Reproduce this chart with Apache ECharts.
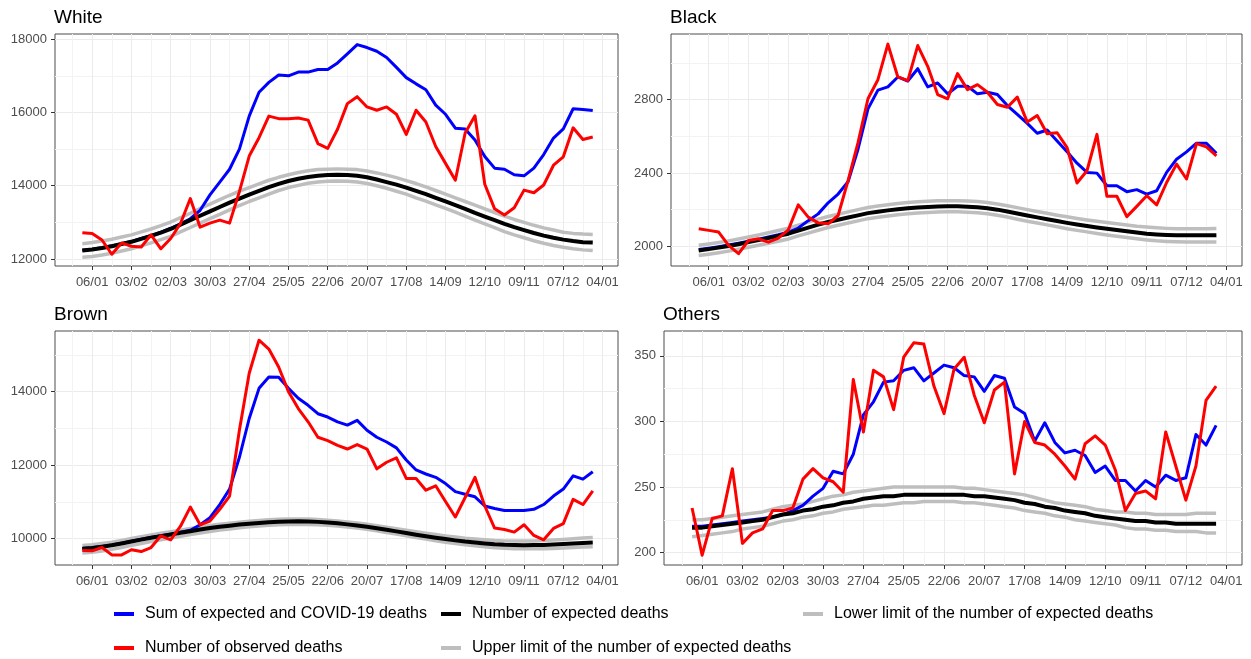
<!DOCTYPE html>
<html>
<head>
<meta charset="utf-8">
<script src="https://cdn.jsdelivr.net/npm/echarts@6/dist/echarts.min.js"></script>
<style>
  html, body { margin: 0; padding: 0; background: #fff; }
  #chart { width: 1251px; height: 659px; }
</style>
</head>
<body>
<div id="chart"></div>
<script>
// weekly points (week start), 30/12/2019 .. 28/12/2020
const weeks = ['2019-12-30', '2020-01-06', '2020-01-13', '2020-01-20', '2020-01-27', '2020-02-03', '2020-02-10',
  '2020-02-17', '2020-02-24', '2020-03-02', '2020-03-09', '2020-03-16', '2020-03-23', '2020-03-30', '2020-04-06',
  '2020-04-13', '2020-04-20', '2020-04-27', '2020-05-04', '2020-05-11', '2020-05-18', '2020-05-25', '2020-06-01',
  '2020-06-08', '2020-06-15', '2020-06-22', '2020-06-29', '2020-07-06', '2020-07-13', '2020-07-20', '2020-07-27',
  '2020-08-03', '2020-08-10', '2020-08-17', '2020-08-24', '2020-08-31', '2020-09-07', '2020-09-14', '2020-09-21',
  '2020-09-28', '2020-10-05', '2020-10-12', '2020-10-19', '2020-10-26', '2020-11-02', '2020-11-09', '2020-11-16',
  '2020-11-23', '2020-11-30', '2020-12-07', '2020-12-14', '2020-12-21', '2020-12-28'];
const tickLabels = ['06/01', '03/02', '02/03', '30/03', '27/04', '25/05', '22/06', '20/07', '17/08', '14/09', '12/10', '09/11', '07/12', '04/01'];

// White
const whiteSum = [12240, 12270, 12310, 12360, 12420, 12480, 12560, 12640, 12730, 12840, 12960, 13100, 13330, 13750, 14100, 14450, 15000, 15900, 16550, 16820, 17020, 17000, 17100, 17100, 17170, 17170, 17350, 17600, 17850, 17770, 17670, 17500, 17230, 16950, 16780, 16620, 16200, 15950, 15570, 15550, 15250, 14800, 14480, 14450, 14300, 14270, 14480, 14850, 15300, 15550, 16100, 16080, 16050];
const whiteObserved = [12720, 12700, 12520, 12130, 12440, 12350, 12330, 12660, 12280, 12560, 12970, 13650, 12870, 12980, 13060, 12980, 13840, 14810, 15310, 15900, 15830, 15830, 15850, 15790, 15150, 15020, 15540, 16240, 16430, 16150, 16060, 16150, 15950, 15400, 16060, 15740, 15070, 14610, 14150, 15440, 15910, 14040, 13370, 13200, 13400, 13880, 13810, 14020, 14560, 14790, 15580, 15260, 15330];
const whiteExpected = [12230, 12260, 12300, 12350, 12410, 12470, 12550, 12630, 12720, 12820, 12940, 13060, 13180, 13300, 13420, 13540, 13650, 13760, 13860, 13960, 14050, 14130, 14190, 14240, 14270, 14290, 14300, 14290, 14270, 14230, 14170, 14100, 14030, 13950, 13860, 13770, 13670, 13570, 13470, 13370, 13260, 13160, 13060, 12960, 12870, 12790, 12710, 12640, 12580, 12530, 12490, 12460, 12450];
const whiteUpper = [12420, 12450, 12490, 12540, 12600, 12660, 12740, 12820, 12910, 13010, 13130, 13250, 13380, 13500, 13620, 13740, 13850, 13950, 14050, 14150, 14230, 14300, 14360, 14410, 14440, 14450, 14460, 14450, 14440, 14400, 14350, 14290, 14220, 14140, 14060, 13970, 13870, 13770, 13670, 13570, 13470, 13370, 13270, 13170, 13080, 13000, 12920, 12850, 12790, 12730, 12700, 12680, 12670];
const whiteLower = [12050, 12070, 12110, 12160, 12220, 12280, 12360, 12440, 12530, 12620, 12740, 12860, 12980, 13100, 13220, 13340, 13460, 13570, 13670, 13770, 13870, 13950, 14010, 14070, 14100, 14120, 14130, 14120, 14100, 14060, 14000, 13930, 13850, 13770, 13670, 13580, 13480, 13380, 13280, 13170, 13060, 12960, 12860, 12750, 12660, 12580, 12500, 12430, 12370, 12320, 12280, 12250, 12230];

// Black
const blackSum = [1983, 1990, 1998, 2007, 2017, 2028, 2039, 2051, 2063, 2077, 2100, 2140, 2177, 2237, 2285, 2352, 2529, 2749, 2851, 2869, 2923, 2901, 2968, 2869, 2890, 2831, 2872, 2872, 2831, 2840, 2827, 2767, 2719, 2670, 2616, 2634, 2574, 2515, 2453, 2403, 2399, 2330, 2330, 2298, 2309, 2285, 2303, 2403, 2475, 2515, 2562, 2562, 2507];
const blackObserved = [2096, 2087, 2078, 2005, 1960, 2032, 2041, 2023, 2045, 2090, 2226, 2159, 2128, 2123, 2168, 2358, 2565, 2804, 2908, 3102, 2923, 2903, 3094, 2981, 2827, 2804, 2941, 2854, 2881, 2840, 2773, 2758, 2813, 2677, 2713, 2614, 2619, 2538, 2345, 2412, 2610, 2273, 2273, 2162, 2218, 2276, 2226, 2348, 2448, 2367, 2560, 2542, 2493];
const blackExpected = [1978, 1985, 1993, 2002, 2012, 2023, 2034, 2045, 2057, 2069, 2086, 2102, 2118, 2133, 2145, 2157, 2169, 2181, 2189, 2196, 2202, 2208, 2212, 2215, 2217, 2218, 2218, 2216, 2213, 2208, 2200, 2190, 2179, 2168, 2158, 2148, 2138, 2128, 2119, 2111, 2103, 2096, 2089, 2082, 2075, 2069, 2065, 2062, 2060, 2060, 2060, 2060, 2061];
const blackUpper = [2006, 2013, 2021, 2030, 2040, 2051, 2062, 2074, 2086, 2099, 2116, 2132, 2148, 2163, 2175, 2188, 2200, 2212, 2220, 2227, 2233, 2239, 2243, 2246, 2248, 2249, 2249, 2247, 2244, 2239, 2231, 2221, 2211, 2200, 2190, 2180, 2170, 2161, 2152, 2144, 2137, 2130, 2123, 2117, 2110, 2105, 2101, 2098, 2096, 2096, 2096, 2096, 2097];
const blackLower = [1950, 1957, 1965, 1974, 1984, 1995, 2006, 2017, 2028, 2040, 2057, 2072, 2088, 2103, 2115, 2127, 2139, 2151, 2159, 2166, 2172, 2178, 2182, 2185, 2187, 2188, 2188, 2186, 2183, 2178, 2170, 2160, 2148, 2137, 2127, 2117, 2107, 2096, 2087, 2079, 2070, 2062, 2055, 2048, 2041, 2035, 2030, 2027, 2025, 2024, 2024, 2024, 2024];

// Brown
const brownSum = [9735, 9755, 9790, 9830, 9880, 9935, 9985, 10035, 10080, 10125, 10175, 10230, 10380, 10570, 10930, 11350, 12215, 13270, 14090, 14400, 14390, 14090, 13820, 13630, 13400, 13310, 13180, 13090, 13220, 12950, 12760, 12630, 12470, 12140, 11870, 11760, 11670, 11500, 11280, 11210, 11140, 10890, 10820, 10770, 10770, 10770, 10800, 10930, 11160, 11350, 11710, 11620, 11820];
const brownObserved = [9680, 9670, 9760, 9560, 9560, 9700, 9650, 9760, 10080, 9970, 10340, 10860, 10380, 10480, 10800, 11160, 12950, 14500, 15400, 15160, 14670, 14000, 13540, 13180, 12760, 12670, 12540, 12440, 12560, 12440, 11900, 12080, 12200, 11640, 11640, 11320, 11440, 11010, 10590, 11120, 11670, 10890, 10290, 10250, 10180, 10380, 10090, 9970, 10280, 10410, 11070, 10930, 11300];
const brownExpected = [9725, 9745, 9780, 9820, 9870, 9925, 9975, 10025, 10070, 10115, 10160, 10205, 10250, 10290, 10325, 10355, 10385, 10410, 10430, 10450, 10462, 10470, 10472, 10468, 10458, 10440, 10418, 10390, 10360, 10325, 10285, 10242, 10200, 10155, 10110, 10068, 10028, 9990, 9955, 9922, 9895, 9870, 9850, 9836, 9828, 9825, 9826, 9832, 9842, 9855, 9870, 9885, 9895];
const brownUpper = [9815, 9834, 9868, 9906, 9955, 10008, 10056, 10104, 10147, 10190, 10233, 10276, 10319, 10357, 10391, 10420, 10450, 10475, 10495, 10515, 10527, 10535, 10537, 10533, 10523, 10505, 10483, 10455, 10426, 10392, 10353, 10312, 10272, 10230, 10188, 10149, 10112, 10077, 10045, 10015, 9991, 9969, 9952, 9941, 9936, 9936, 9940, 9949, 9962, 9980, 10000, 10020, 10035];
const brownLower = [9610, 9632, 9668, 9710, 9762, 9819, 9871, 9923, 9970, 10017, 10064, 10111, 10158, 10199, 10236, 10267, 10298, 10324, 10345, 10366, 10380, 10390, 10393, 10390, 10382, 10366, 10345, 10318, 10289, 10255, 10214, 10170, 10127, 10080, 10033, 9989, 9946, 9906, 9869, 9834, 9805, 9778, 9756, 9740, 9730, 9725, 9724, 9728, 9736, 9747, 9760, 9772, 9780];

// Others
const othersSum = [220, 220, 221, 222, 223, 224, 225, 226, 227, 229, 232, 236, 243, 249, 262, 260, 275, 305, 315, 330, 331, 339, 341, 331, 337, 343, 341, 335, 334, 323, 335, 333, 311, 306, 285, 299, 284, 276, 278, 274, 261, 266, 255, 255, 247, 255, 250, 259, 255, 257, 290, 282, 297];
const othersObserved = [234, 198, 226, 228, 264, 207, 215, 218, 232, 232, 234, 256, 264, 257, 254, 246, 332, 292, 339, 334, 309, 349, 360, 359, 327, 306, 340, 349, 320, 299, 324, 330, 260, 300, 284, 282, 275, 266, 256, 283, 289, 282, 263, 232, 245, 247, 241, 292, 266, 240, 266, 316, 327];
const othersExpected = [219, 219, 220, 221, 222, 223, 224, 225, 227, 229, 230, 232, 233, 235, 236, 238, 239, 241, 242, 243, 243, 244, 244, 244, 244, 244, 244, 244, 243, 243, 242, 241, 240, 238, 237, 235, 234, 232, 231, 230, 228, 227, 226, 225, 224, 224, 223, 223, 222, 222, 222, 222, 222];
const othersUpper = [225, 225, 226, 227, 228, 229, 230, 231, 233, 235, 236, 237, 239, 241, 243, 244, 246, 247, 248, 249, 250, 250, 250, 250, 250, 250, 250, 249, 249, 248, 247, 246, 245, 244, 242, 240, 238, 237, 236, 235, 233, 232, 231, 231, 230, 230, 229, 229, 229, 229, 230, 230, 230];
const othersLower = [212, 213, 214, 215, 216, 218, 219, 220, 222, 224, 225, 227, 228, 230, 231, 233, 234, 235, 236, 236, 237, 238, 238, 239, 239, 239, 239, 238, 238, 237, 236, 235, 234, 232, 231, 230, 228, 227, 225, 224, 223, 222, 221, 219, 218, 218, 217, 217, 216, 216, 216, 215, 215];

// y tick labels per panel
const whiteTicks = [12000, 14000, 16000, 18000];
const blackTicks = [2000, 2400, 2800];
const brownTicks = [10000, 12000, 14000];
const othersTicks = [200, 250, 300, 350];

const FONT = 'Liberation Sans';
const NAMES = {
  sum: 'Sum of expected and COVID-19 deaths',
  exp: 'Number of expected deaths',
  low: 'Lower limit of the number of expected deaths',
  obs: 'Number of observed deaths',
  up: 'Upper limit of the number of expected deaths'
};

const day0 = Date.parse('2020-01-06');
const xDays = weeks.map(w => Math.round((Date.parse(w) - day0) / 86400000));
const xTicks = tickLabels.map((_, k) => k * 28);

const panels = [
  { title: 'White', box: [55, 34, 563, 232], y: [11810, 18140, 2000], ticks: whiteTicks,
    sum: whiteSum, obs: whiteObserved, exp: whiteExpected, up: whiteUpper, low: whiteLower },
  { title: 'Black', box: [671, 34, 571, 232], y: [1893, 3157, 400], ticks: blackTicks,
    sum: blackSum, obs: blackObserved, exp: blackExpected, up: blackUpper, low: blackLower },
  { title: 'Brown', box: [55, 331, 563, 234], y: [9285, 15650, 2000], ticks: brownTicks,
    sum: brownSum, obs: brownObserved, exp: brownExpected, up: brownUpper, low: brownLower },
  { title: 'Others', box: [664, 331, 578, 234], y: [190.5, 369, 50], ticks: othersTicks,
    sum: othersSum, obs: othersObserved, exp: othersExpected, up: othersUpper, low: othersLower }
];

const pairs = arr => xDays.map((d, i) => [d, arr[i]]);

const grid = [], xAxis = [], yAxis = [], series = [], title = [];
panels.forEach((p, k) => {
  grid.push({
    left: p.box[0], top: p.box[1], width: p.box[2], height: p.box[3],
    show: true, borderColor: '#4d4d4d', borderWidth: 1, backgroundColor: '#fff'
  });
  title.push({
    text: p.title, left: p.box[0] - 1, top: p.box[1] - 26, padding: 0,
    textStyle: { fontFamily: FONT, fontSize: 19, fontWeight: 'normal', color: '#000' }
  });
  xAxis.push({
    type: 'value', gridIndex: k, min: -26.5, max: 375,
    minInterval: 28, maxInterval: 28,
    axisLine: { show: false, onZero: false },
    axisTick: { show: true, length: 4, customValues: xTicks, lineStyle: { color: '#333' } },
    axisLabel: {
      customValues: xTicks, margin: 10, color: '#4d4d4d', fontFamily: FONT, fontSize: 13,
      formatter: v => tickLabels[Math.round(v / 28)] || ''
    },
    splitLine: { show: true, lineStyle: { color: '#ebebeb', width: 1 } },
    minorTick: { show: false, splitNumber: 2 },
    minorSplitLine: { show: true, lineStyle: { color: '#f3f3f3', width: 1 } }
  });
  yAxis.push({
    type: 'value', gridIndex: k, min: p.y[0], max: p.y[1],
    minInterval: p.y[2], maxInterval: p.y[2],
    axisLine: { show: false, onZero: false },
    axisTick: { show: true, length: 4, customValues: p.ticks, lineStyle: { color: '#333' } },
    axisLabel: {
      customValues: p.ticks, margin: 8, color: '#4d4d4d', fontFamily: FONT, fontSize: 13,
      formatter: v => String(v)
    },
    splitLine: { show: true, lineStyle: { color: '#ebebeb', width: 1 } },
    minorTick: { show: false, splitNumber: 2 },
    minorSplitLine: { show: true, lineStyle: { color: '#f3f3f3', width: 1 } }
  });
  const line = (name, arr, color, width) => ({
    name, type: 'line', xAxisIndex: k, yAxisIndex: k, data: pairs(arr),
    showSymbol: false, symbol: 'none', silent: true, animation: false,
    lineStyle: { color, width, join: 'round', cap: 'butt' }, itemStyle: { color }
  });
  series.push(
    line(NAMES.low, p.low, '#bebebe', 3.5),
    line(NAMES.up, p.up, '#bebebe', 3.5),
    line(NAMES.sum, p.sum, '#0000ff', 3),
    line(NAMES.exp, p.exp, '#000000', 4),
    line(NAMES.obs, p.obs, '#ff0000', 3)
  );
});

const legendAt = (name, left, top) => ({
  data: [name], left, top, padding: 0, icon: 'rect', itemWidth: 20, itemHeight: 4,
  selectedMode: false,
  textStyle: { fontFamily: FONT, fontSize: 16, color: '#000', padding: [0, 0, 0, 6] }
});

const chart = echarts.init(document.getElementById('chart'));
chart.setOption({
  animation: false,
  title,
  grid, xAxis, yAxis, series,
  legend: [
    legendAt(NAMES.sum, 114, 606),
    legendAt(NAMES.exp, 441, 606),
    legendAt(NAMES.low, 803, 606),
    legendAt(NAMES.obs, 114, 640),
    legendAt(NAMES.up, 441, 640)
  ]
});
</script>
</body>
</html>
